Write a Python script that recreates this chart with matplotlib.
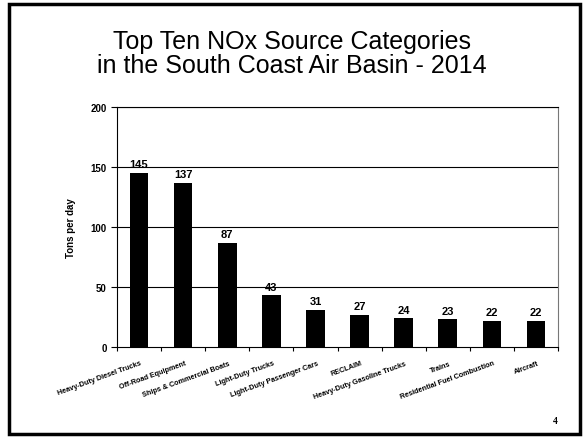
import matplotlib
matplotlib.use("Agg")
import matplotlib.pyplot as plt
import matplotlib.patches as mpatches
import numpy as np

categories = [
    "Heavy-Duty Diesel Trucks",
    "Off-Road Equipment",
    "Ships & Commercial Boats",
    "Light-Duty Trucks",
    "Light-Duty Passenger Cars",
    "RECLAIM",
    "Heavy-Duty Gasoline Trucks",
    "Trains",
    "Residential Fuel Combustion",
    "Aircraft",
]
tons_per_day = [145, 137, 87, 43, 31, 27, 24, 23, 22, 22]
y_ticks = [0, 50, 100, 150, 200]

plt.rcParams["font.family"] = ["Liberation Sans", "DejaVu Sans"]

fig = plt.figure(figsize=(5.84, 4.39), dpi=100)

# slide frame
fig.patches.append(mpatches.Rectangle((0.016, 0.008), 0.978, 0.98, transform=fig.transFigure,
                                      fill=False, edgecolor="black", linewidth=2.5))

fig.text(292 / 584, 1 - 54 / 439, "Top Ten NOx Source Categories\nin the South Coast Air Basin - 2014",
         ha="center", va="center", fontsize=18, linespacing=1.05)

ax = fig.add_axes([117 / 584, 1 - 348 / 439, (558 - 117) / 584, (348 - 108) / 439])
x = np.arange(len(categories))
bars = ax.bar(x, tons_per_day, width=0.42, color="black", zorder=3)

ax.set_xlim(-0.5, len(categories) - 0.5)
ax.set_ylim(0, 200)
ax.set_yticks(y_ticks)
ax.set_yticklabels([str(v) for v in y_ticks], fontsize=7, fontweight="bold")
for v in y_ticks[1:]:
    ax.axhline(v, color="black", linewidth=0.8, zorder=1)

ax.set_xticks(np.arange(len(categories) + 1) - 0.5)
ax.set_xticklabels([])
ax.tick_params(axis="both", direction="out", length=3, width=0.8)
ax.tick_params(axis="y", length=4)
for i, lab in enumerate(categories):
    ax.annotate(lab, xy=(i, 0), xytext=(1, -9), textcoords="offset points",
                rotation=20, ha="right", va="top", fontsize=5.2,
                fontweight="bold", rotation_mode="anchor")

ax.spines["right"].set_color("#777777")
ax.spines["left"].set_linewidth(0.8)
ax.spines["bottom"].set_linewidth(0.8)

for b, v in zip(bars, tons_per_day):
    ax.text(b.get_x() + b.get_width() / 2, v + 3, str(v), ha="center", va="bottom",
            fontsize=8, fontweight="bold")

ax.set_ylabel("Tons per day", fontsize=7, fontweight="bold", labelpad=10)

fig.text(555 / 584, 1 - 422 / 439, "4", fontsize=7, fontweight="bold", family="Liberation Serif",
         ha="center", va="center")

fig.savefig("out.png", dpi=100)
